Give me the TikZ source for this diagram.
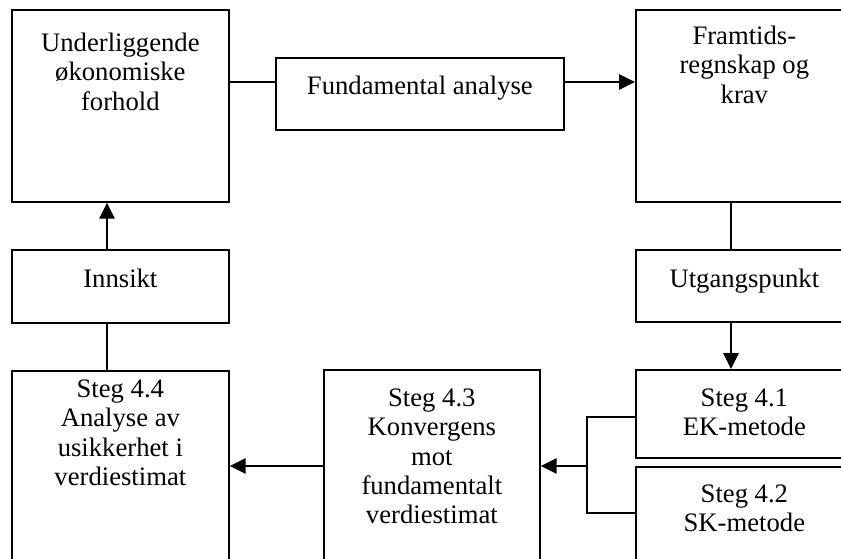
\documentclass[tikz,border=0pt]{standalone}
\usepackage{fontspec}
\setmainfont{Liberation Serif}
\usetikzlibrary{positioning,arrows.meta}

\tikzset{
  box/.style={draw,line width=1.3pt,anchor=north west,inner sep=0pt},
  boxtext/.style={align=center,inner sep=0pt},
  arr/.style={-{Triangle[length=12pt,width=11.5pt]}}
}

\begin{document}
\begin{tikzpicture}[x=0.75pt,y=-0.75pt,line width=1.3pt,
    font=\fontsize{20pt}{22pt}\selectfont]
  \useasboundingbox (0,0) rectangle (841,559);
  \clip (0,0) rectangle (841,559);

  % Upper row
  \node[box,minimum width=162.75pt,minimum height=144pt] (under) at (11,9) {};
  \node[boxtext,below=17.25pt of under.north] (undertxt)
    {Underliggende\\økonomiske\\forhold};
  \node[box,minimum width=216pt,minimum height=54pt] (fund) at (275,57) {};
  \node[boxtext,below=13.5pt of fund.north] (fundtxt) {Fundamental analyse};
  \node[box,minimum width=162.75pt,minimum height=144pt] (framtid) at (635,9) {};
  \node[boxtext,below=12pt of framtid.north] (framtidtxt)
    {Framtids-\\regnskap og\\krav};

  % Middle row
  \node[box,minimum width=162.75pt,minimum height=54.75pt] (innsikt) at (11,249) {};
  \node[boxtext,below=14.25pt of innsikt.north] (innsikttxt) {Innsikt};
  \node[box,minimum width=162.75pt,minimum height=54pt] (utgang) at (635,249) {};
  \node[boxtext,below=14.25pt of utgang.north] (utgangtxt) {Utgangspunkt};

  % Lower row (cut by the page edge)
  \node[box,minimum width=162.75pt,minimum height=165pt] (steg4) at (11,370) {};
  \node[boxtext,below=6.75pt of steg4.north] (steg4txt)
    {Steg 4.4\\Analyse av\\usikkerhet i\\verdiestimat};
  \node[box,minimum width=162pt,minimum height=165pt] (steg3) at (323,369) {};
  \node[boxtext,below=14.25pt of steg3.north] (steg3txt)
    {Steg 4.3\\Konvergens\\mot\\fundamentalt\\verdiestimat};
  \node[box,minimum width=162.75pt,minimum height=66pt] (steg1) at (635,369) {};
  \node[boxtext,below=14.25pt of steg1.north] (steg1txt) {Steg 4.1\\EK-metode};
  \node[box,minimum width=162.75pt,minimum height=90pt] (steg2) at (635,466) {};
  \node[boxtext,below=13.5pt of steg2.north] (steg2txt) {Steg 4.2\\SK-metode};

  % Connectors
  \coordinate (toprow) at (0,82);
  \coordinate (lcol) at (107,0);
  \coordinate (rcol) at (731,0);
  \coordinate (fork) at (587,466);
  \coordinate (forkup) at (587,417);
  \coordinate (forkdn) at (587,513);

  \draw (under.east |- toprow) -- (fund.west |- toprow);
  \draw[arr] (fund.east |- toprow) -- (framtid.west |- toprow);
  \draw (framtid.south -| rcol) -- (utgang.north -| rcol);
  \draw[arr] (utgang.south -| rcol) -- (steg1.north -| rcol);
  \draw (steg1.west |- forkup) -- (forkup) -- (forkdn) -- (steg2.west |- forkdn);
  \draw[arr] (fork) -- (steg3.east |- fork);
  \draw[arr] (steg3.west |- fork) -- (steg4.east |- fork);
  \draw (steg4.north -| lcol) -- (innsikt.south -| lcol);
  \draw[arr] (innsikt.north -| lcol) -- (under.south -| lcol);
\end{tikzpicture}
\end{document}
